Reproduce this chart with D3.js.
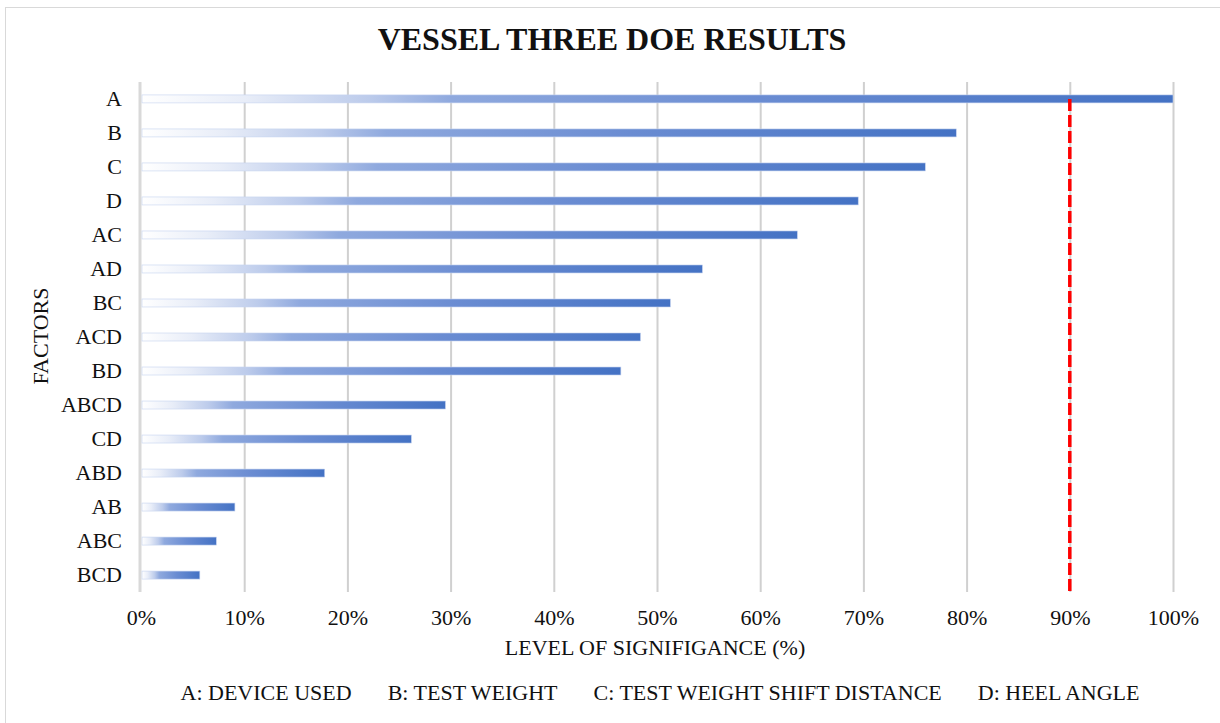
<!DOCTYPE html>
<html lang="en">
<head>
  <meta charset="UTF-8">
  <title>Vessel Three DOE Results</title>
  <script src="https://d3js.org/d3.v7.min.js"></script>
  <style>
    body {
      margin: 0;
      background: #fff;
    }
    svg {
      display: block;
      font-family: "Liberation Serif", "Times New Roman", serif;
    }
    .grid line { stroke: #d0d0d0; stroke-width: 2; }
    text { fill: #111; font-family: "Liberation Serif", "Times New Roman", serif; }
  </style>
</head>
<body>
  <svg id="chart"></svg>
  <script>
    const factors = ["A", "B", "C", "D", "AC", "AD", "BC", "ACD", "BD", "ABCD", "CD", "ABD", "AB", "ABC", "BCD"];
    const significance = [100, 79.0, 76.0, 69.5, 63.6, 54.4, 51.3, 48.4, 46.5, 29.5, 26.2, 17.8, 9.1, 7.3, 5.7];
    const xTicks = [0, 10, 20, 30, 40, 50, 60, 70, 80, 90, 100];
    const threshold = 90;
    const legendItems = ["A: DEVICE USED", "B: TEST WEIGHT", "C: TEST WEIGHT SHIFT DISTANCE", "D: HEEL ANGLE"];

    const width = 1220;
    const height = 723;
    const plot = { left: 141, right: 1173, top: 82, bottom: 592 };
    const fontSize = 22;

    const svg = d3.select("#chart")
      .attr("width", width)
      .attr("height", height);

    // frame
    svg.append("rect")
      .attr("x", 5.5).attr("y", 7.5)
      .attr("width", width).attr("height", height)
      .attr("fill", "none")
      .attr("stroke", "#d9d9d9");

    // gradient for bars (relative to each bar)
    const grad = svg.append("defs").append("linearGradient")
      .attr("id", "barGrad")
      .attr("x1", "0%").attr("x2", "100%")
      .attr("y1", "0%").attr("y2", "0%");
    [
      [0, "#ffffff"],
      [0.1, "#e8edf8"],
      [0.22, "#bccbeb"],
      [0.3, "#8fa9de"],
      [0.6, "#6a8cd2"],
      [1, "#4472c4"]
    ].forEach(([o, c]) => grad.append("stop").attr("offset", o).attr("stop-color", c));

    const x = d3.scaleLinear()
      .domain([0, 100])
      .range([plot.left, plot.right]);

    const y = d3.scaleBand()
      .domain(factors)
      .range([plot.top, plot.bottom])
      .paddingInner(0.765)
      .paddingOuter(0.38);

    // gridlines
    const grid = svg.append("g")
      .attr("class", "grid")
      .attr("transform", `translate(0, ${plot.bottom})`)
      .call(d3.axisBottom(x).tickValues(xTicks.slice(1))
        .tickSize(-(plot.bottom - plot.top)).tickFormat(""));
    grid.select(".domain").remove();

    // category axis line
    svg.append("line")
      .attr("x1", x(0) - 1).attr("x2", x(0) - 1)
      .attr("y1", plot.top).attr("y2", plot.bottom)
      .attr("stroke", "#d9d9d9")
      .attr("stroke-width", 3);

    // bars
    svg.append("g")
      .selectAll("rect")
      .data(factors)
      .join("rect")
      .attr("x", x(0) + 1)
      .attr("y", d => y(d))
      .attr("width", (d, i) => x(significance[i]) - x(0) - 1)
      .attr("height", y.bandwidth())
      .attr("fill", "url(#barGrad)")
      .attr("stroke", "#c5d3ef")
      .attr("stroke-width", 0.6);

    // threshold line
    svg.append("line")
      .attr("x1", x(threshold)).attr("x2", x(threshold))
      .attr("y1", y("A") + y.bandwidth() / 2)
      .attr("y2", plot.bottom)
      .attr("stroke", "#ff0000")
      .attr("stroke-width", 3.5)
      .attr("stroke-dasharray", "12,4");

    // x axis labels
    const xAxis = svg.append("g")
      .attr("transform", `translate(0, ${plot.bottom})`)
      .call(d3.axisBottom(x).tickValues(xTicks).tickSize(0).tickPadding(17)
        .tickFormat(d => d + "%"));
    xAxis.attr("font-family", null).attr("font-size", fontSize);
    xAxis.select(".domain").remove();
    xAxis.selectAll("text").attr("fill", "#111");

    // y axis labels
    const yAxis = svg.append("g")
      .attr("transform", `translate(${plot.left - 19}, 0)`)
      .call(d3.axisLeft(y).tickSize(0).tickPadding(0));
    yAxis.attr("font-family", null).attr("font-size", fontSize);
    yAxis.select(".domain").remove();
    yAxis.selectAll("text").attr("fill", "#111");

    // title
    svg.append("text")
      .attr("x", 612).attr("y", 50)
      .attr("text-anchor", "middle")
      .attr("font-size", 32)
      .attr("font-weight", "bold")
      .text("VESSEL THREE DOE RESULTS");

    // axis titles
    svg.append("text")
      .attr("x", 655).attr("y", 655)
      .attr("text-anchor", "middle")
      .attr("font-size", fontSize)
      .text("LEVEL OF SIGNIFIGANCE (%)");

    svg.append("text")
      .attr("transform", `translate(48, 336) rotate(-90)`)
      .attr("text-anchor", "middle")
      .attr("font-size", fontSize)
      .text("FACTORS");

    // legend
    const legend = svg.append("g");
    const items = legend.selectAll("text")
      .data(legendItems)
      .join("text")
      .attr("y", 700)
      .attr("font-size", fontSize)
      .text(d => d);
    const gap = 36;
    const widths = items.nodes().map(n => n.getComputedTextLength());
    const total = d3.sum(widths) + gap * (widths.length - 1);
    let cx = 660 - total / 2;
    items.attr("x", (d, i) => {
      const pos = cx;
      cx += widths[i] + gap;
      return pos;
    });
  </script>
</body>
</html>
